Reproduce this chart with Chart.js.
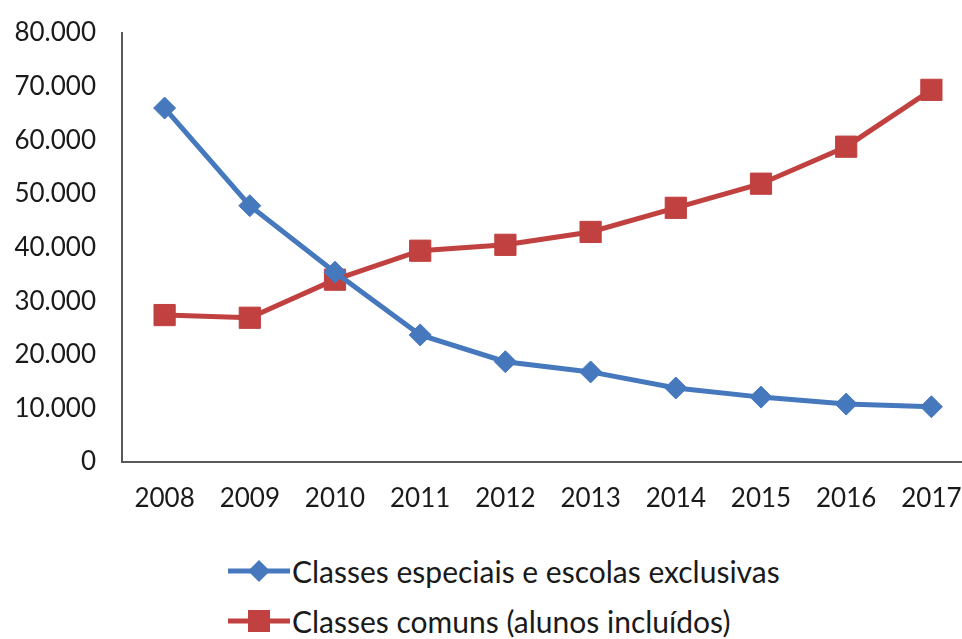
<!DOCTYPE html>
<html>
<head>
<meta charset="utf-8">
<script src="https://cdn.jsdelivr.net/npm/chart.js@4"></script>
<style>
  html, body { margin: 0; padding: 0; background: #fff; overflow: hidden; }
  #wrap { position: relative; width: 976px; height: 639px; }
  #grafico { position: absolute; left: 0; top: 0; }
  #legenda { position: absolute; left: 228px; top: 546px; font-family: Lato, sans-serif; font-size: 30px; color: #1a1a1a; }
  .item { display: flex; align-items: center; height: 50px; }
  .item svg { margin-right: 2px; }
</style>
</head>
<body>
<div id="wrap">
  <canvas id="grafico" width="976" height="520"></canvas>
  <div id="legenda"></div>
</div>
<script>
// dados
const anos = ['2008', '2009', '2010', '2011', '2012', '2013', '2014', '2015', '2016', '2017'];
const especiais = [66000, 47800, 35400, 23700, 18700, 16800, 13800, 12100, 10800, 10300];
const comuns = [27400, 26900, 34000, 39400, 40500, 42900, 47400, 51900, 58800, 69400];
const nomes = ['Classes especiais e escolas exclusivas', 'Classes comuns (alunos incluídos)'];

const azul = '#4678be';
const vermelho = '#c0413f';

const ctx = document.getElementById('grafico').getContext('2d');
new Chart(ctx, {
  type: 'line',
  data: {
    labels: anos,
    datasets: [
      {
        label: nomes[0],
        data: especiais,
        borderColor: azul,
        backgroundColor: azul,
        borderWidth: 5,
        pointStyle: 'rectRot',
        pointRadius: 11,
        pointBorderWidth: 1,
        tension: 0,
      },
      {
        label: nomes[1],
        data: comuns,
        borderColor: vermelho,
        backgroundColor: vermelho,
        borderWidth: 5,
        pointStyle: 'rect',
        pointRadius: 15,
        pointBorderWidth: 1,
        tension: 0,
      },
    ],
  },
  options: {
    responsive: false,
    animation: false,
    layout: { autoPadding: false, padding: { top: 33, right: 2, left: 0, bottom: 0 } },
    plugins: {
      legend: { display: false },
      tooltip: { enabled: false },
    },
    scales: {
      x: {
        offset: true,
        grid: { display: false, drawTicks: false },
        border: { color: '#595959', width: 2 },
        ticks: {
          padding: 21,
          color: '#1a1a1a',
          font: { family: 'Lato', size: 26 },
          maxRotation: 0,
        },
        afterFit: function (scale) {
          scale.height = 58;
          scale.paddingLeft = 0;
          scale.paddingRight = 0;
        },
      },
      y: {
        min: 0,
        max: 80000,
        grid: { display: false, drawTicks: false },
        border: { color: '#595959', width: 2 },
        ticks: {
          stepSize: 10000,
          padding: 26,
          color: '#1a1a1a',
          font: { family: 'Lato', size: 26 },
          callback: function (v) { return v === 0 ? '0' : v.toLocaleString('pt-BR'); },
        },
        afterFit: function (scale) {
          scale.width = 122;
          scale.paddingTop = 0;
          scale.paddingBottom = 0;
        },
      },
    },
  },
});

// legenda embaixo, um item por linha
const leg = document.getElementById('legenda');
const marcas = [
  { cor: azul, forma: '<polygon points="31,1 42,12 31,23 20,12" />' },
  { cor: vermelho, forma: '<rect x="20" y="1" width="22" height="22" />' },
];
nomes.forEach(function (nome, i) {
  const div = document.createElement('div');
  div.className = 'item';
  div.innerHTML =
    '<svg width="62" height="24" viewBox="0 0 62 24" fill="' + marcas[i].cor + '">' +
    '<line x1="0" y1="12" x2="62" y2="12" stroke="' + marcas[i].cor + '" stroke-width="5" />' +
    marcas[i].forma + '</svg><span>' + nome + '</span>';
  leg.appendChild(div);
});
</script>
</body>
</html>
